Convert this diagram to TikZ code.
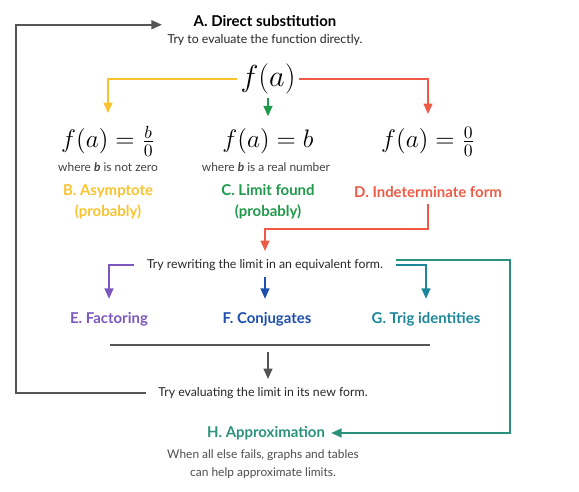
\documentclass[tikz,border=0pt]{standalone}
\usepackage[no-math]{fontspec}
\setmainfont{Lato}
\usetikzlibrary{arrows.meta}
\definecolor{ayellow}{HTML}{F9C22E}
\definecolor{agreen}{HTML}{1E9A4A}
\definecolor{ared}{HTML}{EE5A45}
\definecolor{apurple}{HTML}{7B57BF}
\definecolor{ablue}{HTML}{1D4FAE}
\definecolor{ateal}{HTML}{1C869A}
\definecolor{ahgreen}{HTML}{2A917B}
\definecolor{agray}{HTML}{555555}
\tikzset{
  head/.style={font=\fontsize{8.5}{12}\selectfont\bfseries},
  txt/.style={font=\fontsize{7}{9}\selectfont, text=black!85, inner xsep=7pt, inner ysep=0.5pt},
  note/.style={font=\fontsize{6.8}{10.2}\selectfont, text=black!75},
  frm/.style={font=\fontsize{14.5}{16}\selectfont, inner xsep=0pt, inner ysep=3pt, anchor=base},
  link/.style={line width=1.2pt, ->, shorten >=4pt}
}
\begin{document}
\begin{tikzpicture}[x=0.02cm, y=-0.02cm, >={Triangle[length=6pt,width=5pt]}]
\useasboundingbox (0,0) rectangle (579,492);
\node[head, text depth=2.5pt] (direct) at (265,23) {A. Direct substitution};
\node[txt] (directtxt) at (265,40) {Try to evaluate the function directly.};
\node[font=\fontsize{18}{21}\selectfont, inner sep=2pt] (fa) at (268,79) {$f(a)$};
\node[frm] (fb) at (108,148) {$f(a)=\frac{b}{0}$};
\node[frm] (fc) at (268,148) {$f(a)=b$};
\node[frm] (fd) at (428,148) {$f(a)=\frac{0}{0}$};
\node[note] (fbnote) at (108,167) {where \textbf{\textit{b}} is not zero};
\node[note] (fcnote) at (266,167) {where \textbf{\textit{b}} is a real number};
\node[head, text=ayellow, align=center] (asym) at (108,202) {B. Asymptote\\(probably)};
\node[head, text=agreen, align=center] (found) at (268,202) {C. Limit found\\(probably)};
\node[head, text=ared] (indet) at (428,192) {D. Indeterminate form};
\node[txt] (rewrite) at (265,265) {Try rewriting the limit in an equivalent form.};
\node[head, text=apurple] (factor) at (109,319) {E. Factoring};
\node[head, text=ablue] (conj) at (267,319) {F. Conjugates};
\node[head, text=ateal] (trig) at (426,319) {G. Trig identities};
\node[txt] (neweval) at (263,393) {Try evaluating the limit in its new form.};
\node[head, text=ahgreen] (approx) at (266,433) {H. Approximation};
\node[note, align=center, text=black!70] (approxtxt) at (263,464) {When all else fails, graphs and tables\\can help approximate limits.};
\coordinate (barl) at (110,345);
\coordinate (barr) at (430,345);
\coordinate (barmid) at (268,352);
\coordinate (hturn) at (510,300);
\coordinate (loopc) at (16,200);

\draw[link, ayellow] (fa.west) -| (fb.north);
\draw[link, agreen] (fa.south) -- (fa.south |- fc.north);
\draw[link, ared] (fa.east) -| (fd.north);
\draw[link, ared] (indet.south) -- ++(0,25) -| (rewrite.north);
\draw[link, apurple] (rewrite.west) -| (factor.north);
\draw[link, ablue, shorten <=3pt] (rewrite.south) -- (rewrite.south |- conj.north);
\draw[link, ateal] (rewrite.east) -| (trig.north);
\draw[link, ahgreen, shorten >=0pt] ([yshift=3pt]rewrite.east) -| (hturn) |- (approx.east);
\draw[line width=1.2pt, agray] (barl) -- (barr);
\draw[link, agray] (barmid) -- (barmid |- neweval.north);
\draw[link, agray, shorten >=0pt] (neweval.west) -| (loopc) |- ([shift={(4pt,-1pt)}]direct.west -| directtxt.west);
\end{tikzpicture}
\end{document}
